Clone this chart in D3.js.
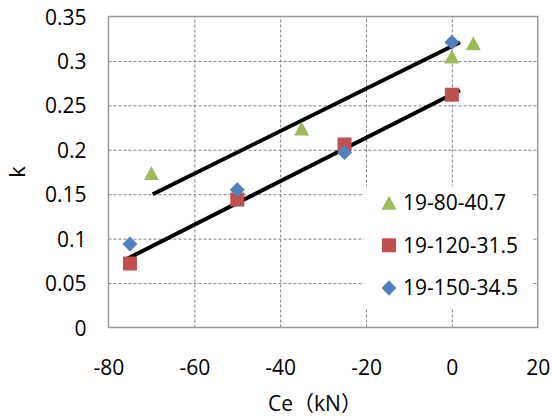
<!DOCTYPE html>
<html>
<head>
<meta charset="utf-8">
<script src="https://cdn.jsdelivr.net/npm/d3@7"></script>
<style>
    body { margin: 0; background: #fff; }
    svg text { font-family: "Open Sans", "Noto Sans CJK JP", sans-serif; fill: #000; }
</style>
</head>
<body>
<div id="chart"></div>
<script>
// series
const seriesNames = ["19-80-40.7", "19-120-31.5", "19-150-34.5"];
const seriesColors = ["#9BBB59", "#C0504D", "#4F81BD"];
const seriesShapes = ["triangle", "square", "diamond"];

const ceA = [-70, -35, 0, 5];
const kA = [0.174, 0.224, 0.305, 0.320];
const ceB = [-75, -50, -25, 0];
const kB = [0.072, 0.144, 0.206, 0.262];
const ceC = [-75, -50, -25, 0];
const kC = [0.094, 0.155, 0.197, 0.321];

// straight lines drawn over the points (end points)
const upperLineCe = [-69.7, 1.9];
const upperLineK = [0.150, 0.321];
const lowerLineCe = [-76.2, 1.9];
const lowerLineK = [0.076, 0.267];

const xTicks = [-80, -60, -40, -20, 0, 20];
const yTicks = [0, 0.05, 0.1, 0.15, 0.2, 0.25, 0.3, 0.35];

const W = 552, H = 417;
let margin = { top: 16.5, right: 14.3, bottom: 89.5, left: 108.5 },
    width = W - margin.left - margin.right,
    height = H - margin.top - margin.bottom;

let svg = d3.select("#chart")
    .append("svg")
    .attr("width", W)
    .attr("height", H);
let g = svg.append("g")
    .attr("transform", "translate(" + margin.left + "," + margin.top + ")");

let x = d3.scaleLinear().domain([-80, 20]).range([0, width]);
let y = d3.scaleLinear().domain([0, 0.35]).range([height, 0]);

// gridlines + tick labels
let yAxis = g.append("g")
    .call(d3.axisLeft(y).tickValues(yTicks).tickSize(-width).tickPadding(22)
        .tickFormat(d => String(d)));
yAxis.select(".domain").remove();
yAxis.selectAll("line")
    .attr("stroke", "#7f7f7f")
    .attr("stroke-dasharray", "3,2")
    .style("display", d => (d === 0 || d === 0.35) ? "none" : null);
yAxis.selectAll("text").style("font-size", "21px").attr("dy", "0.36em");

let xAxis = g.append("g")
    .attr("transform", "translate(0," + height + ")")
    .call(d3.axisBottom(x).tickValues(xTicks).tickSize(-height).tickFormat(d => String(d)));
xAxis.select(".domain").remove();
xAxis.selectAll("line")
    .attr("stroke", "#7f7f7f")
    .attr("stroke-dasharray", "3,2")
    .style("display", d => (d === -80 || d === 20) ? "none" : null);
xAxis.selectAll("text").style("font-size", "21px").attr("y", 40).attr("dy", "0.36em");

// plot border
g.append("rect")
    .attr("width", width)
    .attr("height", height)
    .attr("fill", "none")
    .attr("stroke", "#999")
    .attr("stroke-width", 1.5);

// axis titles
svg.append("text")
    .attr("text-anchor", "middle")
    .attr("x", 315)
    .attr("y", 403)
    .attr("dy", "0.36em")
    .style("font-size", "21px")
    .text("Ce（kN）");
svg.append("text")
    .attr("text-anchor", "middle")
    .attr("transform", "translate(17," + (margin.top + height / 2) + ")rotate(-90)")
    .attr("dy", "0.36em")
    .style("font-size", "22px")
    .text("k");

// legend box hides grid behind it
let legendX = 364 - margin.left, legendY = 186 - margin.top;
g.append("rect")
    .attr("x", legendX)
    .attr("y", legendY)
    .attr("width", 169)
    .attr("height", 122)
    .attr("fill", "#fff");

// black lines
const lineGen = d3.line().x(d => x(d[0])).y(d => y(d[1]));
[[upperLineCe, upperLineK], [lowerLineCe, lowerLineK]].forEach(([cs, ks]) => {
    g.append("path")
        .datum(cs.map((c, i) => [c, ks[i]]))
        .attr("d", lineGen)
        .attr("fill", "none")
        .attr("stroke", "#000")
        .attr("stroke-width", 4);
});

// marker shapes centred on their box
function shapePath(shape) {
    if (shape === "triangle") return "M0,-7L7.5,7L-7.5,7Z";
    if (shape === "square") return "M-7,-7H7V7H-7Z";
    return "M0,-7.5L7.5,0L0,7.5L-7.5,0Z";
}

const allSeries = [[ceA, kA], [ceB, kB], [ceC, kC]];
allSeries.forEach(([cs, ks], i) => {
    g.selectAll(".pt" + i)
        .data(cs.map((c, j) => ({ ce: c, k: ks[j] })))
        .enter()
        .append("path")
        .attr("class", "pt" + i)
        .attr("d", shapePath(seriesShapes[i]))
        .attr("transform", d => "translate(" + x(d.ce) + "," + y(d.k) + ")")
        .attr("fill", seriesColors[i]);
});

// legend entries
let legend = svg.append("g");
seriesNames.forEach((name, i) => {
    let cy = 202.7 + i * 42.6;
    legend.append("path")
        .attr("d", shapePath(seriesShapes[i]))
        .attr("transform", "translate(389," + cy + ")")
        .attr("fill", seriesColors[i]);
    legend.append("text")
        .attr("x", 403)
        .attr("y", cy)
        .attr("dy", "0.36em")
        .style("font-size", "21px")
        .text(name);
});
</script>
</body>
</html>
